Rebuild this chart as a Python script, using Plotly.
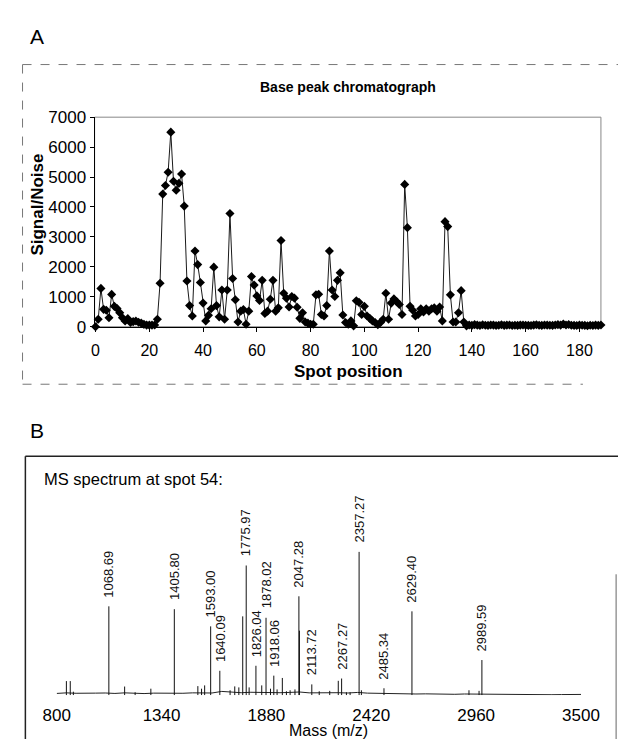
import plotly.graph_objects as go

# ---------------- Panel A: base peak chromatograph ----------------
sn = [0, 250, 1280, 580, 550, 300, 1080, 680, 610, 470,
      300, 190, 270, 140, 170, 190, 150, 120, 80, 55,
      55, 55, 60, 250, 1450, 4430, 4720, 5160, 6500, 4860,
      4560, 4790, 5100, 4030, 1530, 705, 360, 2530, 2075, 1475,
      790, 195, 380, 600, 1990, 705, 330, 1225, 250, 1225,
      3780, 1610, 900, 160, 520, 575, 85, 520, 1680, 1390,
      1030, 880, 1550, 445, 520, 920, 1550, 520, 630, 2880,
      1120, 955, 660, 1010, 955, 650, 280, 465, 160, 120,
      85, 85, 1065, 1085, 410, 360, 705, 2530, 1225, 1010,
      1550, 1800, 390, 140, 85, 195, 30, 870, 815, 410,
      680, 360, 280, 195, 140, 65, 140, 250, 1120, 250,
      790, 930, 845, 740, 410, 4755, 3310, 680, 550, 360,
      410, 600, 490, 600, 520, 600, 630, 520, 660, 195,
      3510, 3345, 1065, 160, 160, 465, 1205, 160, 30, 60,
      45, 70, 55, 40, 65, 50, 45, 60, 55, 40,
      50, 65, 45, 55, 60, 40, 50, 45, 55, 60,
      50, 45, 40, 55, 65, 50, 45, 60, 55, 50,
      45, 60, 70, 55, 90, 60, 75, 50, 45, 40,
      55, 50, 45, 35, 50, 40, 55, 45, 60]
spots = list(range(len(sn)))
spot_ticks = [0, 20, 40, 60, 80, 100, 120, 140, 160, 180]
sn_ticks = [0, 1000, 2000, 3000, 4000, 5000, 6000, 7000]

# ---------------- Panel B: MS spectrum at spot 54 ----------------
peak_labels = ["1068.69", "1405.80", "1593.00", "1640.09", "1775.97", "1826.04",
               "1878.02", "1918.06", "2047.28", "2113.72", "2267.27", "2357.27",
               "2485.34", "2629.40", "2989.59"]
peak_mz = [1068.69, 1405.80, 1593.00, 1640.09, 1775.97, 1826.04,
           1878.02, 1918.06, 2047.28, 2113.72, 2267.27, 2357.27,
           2485.34, 2629.40, 2989.59]
peak_int = [62, 60, 48, 17, 90.5, 20.5,
            54, 13.6, 69, 7.5, 11.6, 100,
            4.8, 58.5, 24.5]

minor_mz = [850, 870, 886, 1150, 1204, 1285, 1527, 1546, 1562, 1693, 1717,
            1738, 1758, 1791, 1856, 1901, 1935, 1962, 1983, 2002, 2027, 2050,
            2152, 2206, 2250, 2292, 2311, 2369, 2923, 2975]
minor_int = [9.8, 9.8, 2.4, 6, 2, 4.5, 6.3, 4.5, 6.8, 3.4, 6.1,
             5.4, 55, 5.4, 6.8, 4.5, 4, 12, 2.7, 3.4, 4, 45,
             2.7, 3, 10, 2, 2, 3.4, 3.4, 3]

base_mz = [800, 850, 900, 950, 1000, 1050, 1100, 1150, 1200, 1250, 1300,
           1350, 1400, 1450, 1500, 1550, 1600, 1650, 1700, 1750, 1800, 1850,
           1900, 1950, 2000, 2050, 2100, 2150, 2200, 2250, 2300, 2350, 2400,
           2450, 2500, 2550, 2600, 2650, 2700, 2750, 2800, 2850, 2900, 2950,
           3000, 3050, 3100, 3150, 3200, 3250, 3300, 3350, 3400, 3450, 3500]
base_int = [1.2, 1.6, 1.3, 1.1, 1.4, 1.5, 1.2, 1.6, 1.3, 1.1, 1.4,
            1.2, 1.5, 1.3, 1.6, 1.8, 1.5, 2.6, 1.9, 1.7, 2.0, 1.8,
            2.1, 1.7, 1.9, 2.2, 1.6, 1.8, 2.0, 1.7, 1.5, 1.9, 1.4,
            1.2, 1.1, 0.9, 1.0, 0.8, 0.9, 0.7, 0.8, 0.6, 0.8, 0.7,
            0.6, 0.5, 0.6, 0.4, 0.5, 0.3, 0.4, 0.3, 0.4, 0.3, 0.5]

mass_ticks = [800, 1340, 1880, 2420, 2960, 3500]

FONT = "Liberation Sans, Arial, Helvetica, sans-serif"
W, H = 637, 749

stick_x, stick_y = [], []
for m, h in zip(list(peak_mz) + list(minor_mz), list(peak_int) + list(minor_int)):
    stick_x += [m, m, None]
    stick_y += [0, h, None]

fig = go.Figure()
fig.add_trace(go.Scatter(
    x=spots, y=sn, mode="lines+markers", xaxis="x", yaxis="y",
    line=dict(color="#1a1a1a", width=1),
    marker=dict(symbol="diamond", size=7, color="black"),
    cliponaxis=False, hoverinfo="skip"))
fig.add_trace(go.Scatter(
    x=base_mz, y=base_int, mode="lines", xaxis="x2", yaxis="y2",
    line=dict(color="#222222", width=1), hoverinfo="skip"))
fig.add_trace(go.Scatter(
    x=stick_x, y=stick_y, mode="lines", xaxis="x2", yaxis="y2",
    line=dict(color="#111111", width=1), hoverinfo="skip"))

annotations = []
for lab, m, h in zip(peak_labels, peak_mz, peak_int):
    annotations.append(dict(
        x=m, y=h, xref="x2", yref="y2", text=lab, showarrow=False,
        textangle=-90, xanchor="center", yanchor="bottom", yshift=7,
        font=dict(size=13, family=FONT, color="#111111")))

def px(x):
    return x / W

def py(y):
    return 1 - y / H

annotations += [
    dict(x=px(24), y=py(28), xref="paper", yref="paper", text="A", showarrow=False,
         font=dict(size=21, family=FONT, color="black"), xanchor="center", yanchor="middle"),
    dict(x=px(24), y=py(432), xref="paper", yref="paper", text="B", showarrow=False,
         font=dict(size=21, family=FONT, color="black"), xanchor="center", yanchor="middle"),
    dict(x=px(352), y=py(80), xref="paper", yref="paper", text="<b>Base peak chromatograph</b>",
         showarrow=False, font=dict(size=14, family=FONT, color="black"),
         xanchor="center", yanchor="middle"),
    dict(x=px(25), y=py(201), xref="paper", yref="paper", text="<b>Signal/Noise</b>",
         showarrow=False, textangle=-90, font=dict(size=17, family=FONT, color="black"),
         xanchor="center", yanchor="middle"),
    dict(x=px(353), y=py(372), xref="paper", yref="paper", text="<b>Spot position</b>",
         showarrow=False, font=dict(size=17, family=FONT, color="black"),
         xanchor="center", yanchor="middle"),
    dict(x=px(30), y=py(482), xref="paper", yref="paper", text="MS spectrum at spot 54:",
         showarrow=False, font=dict(size=16.5, family=FONT, color="black"),
         xanchor="left", yanchor="middle"),
    dict(x=px(332), y=py(740), xref="paper", yref="paper", text="Mass (m/z)",
         showarrow=False, font=dict(size=16, family=FONT, color="black"),
         xanchor="center", yanchor="middle"),
]

shapes = [
    # panel A chart-area frame (dashed grey)
    dict(type="line", xref="paper", yref="paper", x0=px(9), x1=px(637), y0=py(57), y1=py(57),
         line=dict(color="#777777", width=1, dash="dash")),
    dict(type="line", xref="paper", yref="paper", x0=px(9), x1=px(9), y0=py(57), y1=py(385),
         line=dict(color="#777777", width=1, dash="dash")),
    dict(type="line", xref="paper", yref="paper", x0=px(9), x1=px(600), y0=py(385), y1=py(385),
         line=dict(color="#777777", width=1, dash="dash")),
    # panel A plot-area border
    dict(type="rect", xref="x domain", yref="y domain", x0=0, x1=1, y0=0, y1=1,
         line=dict(color="#888888", width=1), layer="below"),
    # panel B frame
    dict(type="line", xref="paper", yref="paper", x0=px(12), x1=px(637), y0=py(459), y1=py(459),
         line=dict(color="#222222", width=1.5)),
    dict(type="line", xref="paper", yref="paper", x0=px(12), x1=px(12), y0=py(459), y1=py(749),
         line=dict(color="#222222", width=1.5)),
    dict(type="line", xref="paper", yref="paper", x0=px(635), x1=px(635), y0=py(580), y1=py(749),
         line=dict(color="#666666", width=1)),
]

fig.update_layout(
    width=W, height=H, margin=dict(l=0, r=0, t=0, b=0),
    paper_bgcolor="white", plot_bgcolor="white", showlegend=False,
    font=dict(family=FONT, color="black"),
    xaxis=dict(domain=[px(85), px(619)], range=[-0.35, 188], tickvals=spot_ticks,
               ticks="outside", ticklen=4, tickcolor="black", showline=True,
               linecolor="black", linewidth=1, showgrid=False, zeroline=False,
               tickfont=dict(size=16), ticklabelstandoff=5, anchor="y"),
    yaxis=dict(domain=[py(326), py(111)], range=[0, 7000], tickvals=sn_ticks,
               ticks="outside", ticklen=4, tickcolor="black", showline=True,
               linecolor="black", linewidth=1, showgrid=False, zeroline=False,
               tickfont=dict(size=17), anchor="x"),
    xaxis2=dict(domain=[px(45), px(598)], range=[800, 3500], tickvals=mass_ticks,
                ticks="", showline=False, showgrid=False, zeroline=False,
                tickfont=dict(size=17), ticklabelstandoff=8, anchor="y2"),
    yaxis2=dict(domain=[py(704), py(465)], range=[0, 162.6], visible=False, anchor="x2"),
    annotations=annotations, shapes=shapes,
)

fig.write_html("out.html", post_script="document.body.style.margin='0px';")
